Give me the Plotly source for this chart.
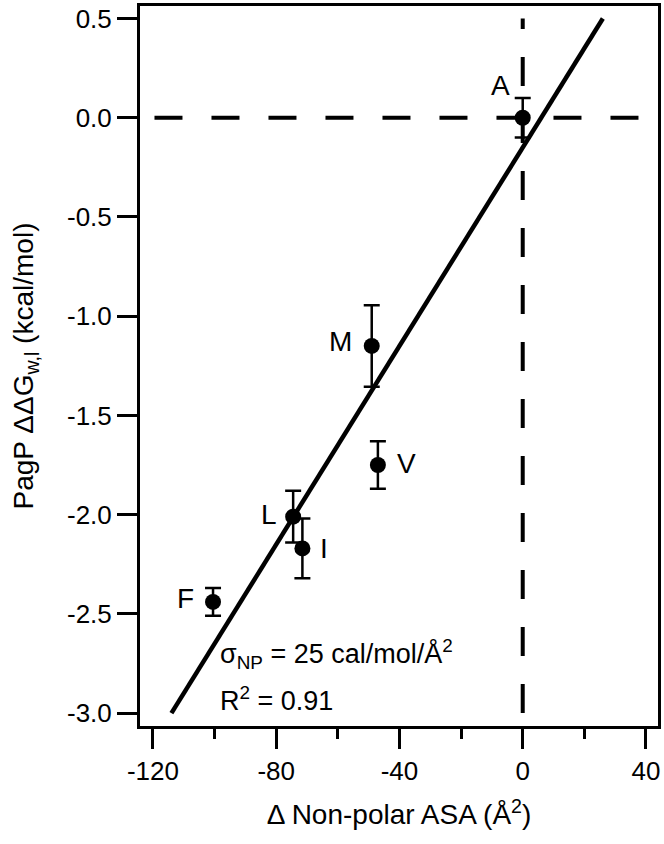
import plotly.graph_objects as go

labels = ["A", "M", "V", "L", "I", "F"]
asa = [0, -49, -47, -74.5, -71.5, -100.5]
ddg = [0.0, -1.15, -1.75, -2.01, -2.17, -2.44]
err = [0.10, 0.205, 0.12, 0.13, 0.15, 0.07]

fit_x = [-114, 26]
fit_y = [-3.0, 0.5]

# label placement (style only)
lab_anchor = ["right", "right", "left", "right", "left", "right"]
lab_dx = [-11, -18, 17, -14, 16, -17]
lab_dy = [32, 4, 2, 2, 0, 3]

FONT = "Liberation Sans, Arial, sans-serif"

fig = go.Figure()

# dashed reference lines
fig.add_trace(go.Scatter(x=[-119.5, 38], y=[0, 0], mode="lines",
                         line=dict(color="black", width=4, dash="28px,29px"),
                         hoverinfo="skip", showlegend=False))
fig.add_trace(go.Scatter(x=[0, 0], y=[-3.0, 0.5], mode="lines",
                         line=dict(color="black", width=4, dash="29px,28px"),
                         hoverinfo="skip", showlegend=False))

# fit line
fig.add_trace(go.Scatter(x=fit_x, y=fit_y, mode="lines",
                         line=dict(color="black", width=4.5),
                         showlegend=False))

# data points
fig.add_trace(go.Scatter(x=asa, y=ddg, mode="markers",
                         marker=dict(color="black", size=16),
                         error_y=dict(type="data", array=err, color="black",
                                      thickness=2.5, width=8),
                         showlegend=False))

for lab, xv, yv, anc, dx, dy in zip(labels, asa, ddg, lab_anchor, lab_dx, lab_dy):
    fig.add_annotation(x=xv, y=yv, text=lab, showarrow=False, xanchor=anc, yanchor="middle",
                       xshift=dx, yshift=dy, font=dict(family=FONT, size=28, color="black"))

fig.add_annotation(x=-99, y=-2.7, xref="x", yref="y", xanchor="left", yanchor="middle",
                   text="σ<sub>NP</sub> = 25 cal/mol/Å<sup>2</sup>", showarrow=False,
                   font=dict(family=FONT, size=27, color="black"))
fig.add_annotation(x=-99, y=-2.93, xref="x", yref="y", xanchor="left", yanchor="middle",
                   text="R<sup>2</sup> = 0.91", showarrow=False,
                   font=dict(family=FONT, size=27, color="black"))

fig.update_layout(
    width=664, height=844,
    margin=dict(l=140, r=6, t=3, b=118),
    paper_bgcolor="white", plot_bgcolor="white",
    font=dict(family=FONT, size=26, color="black"),
    xaxis=dict(range=[-124.2, 43.9], tickvals=[-120, -80, -40, 0, 40],
               ticktext=["-120", "-80", "-40", "0", "40"],
               ticks="outside", ticklen=20, tickwidth=3, tickcolor="black",
               minor=dict(ticks="outside", ticklen=10, tickwidth=3, dtick=20, tick0=0,
                          tickcolor="black"),
               showline=True, linecolor="black", linewidth=3, mirror=True,
               showgrid=False, zeroline=False,
               tickfont=dict(family=FONT, size=26),
               title=dict(text="Δ Non-polar ASA (Å<sup>2</sup>)",
                          font=dict(family=FONT, size=28), standoff=20)),
    yaxis=dict(range=[-3.065, 0.563], tickvals=[0.5, 0.0, -0.5, -1.0, -1.5, -2.0, -2.5, -3.0],
               ticktext=["0.5", "0.0", "-0.5", "-1.0", "-1.5", "-2.0", "-2.5", "-3.0"],
               ticks="outside", ticklen=20, tickwidth=3, tickcolor="black",
               showline=True, linecolor="black", linewidth=3, mirror=True,
               showgrid=False, zeroline=False,
               tickfont=dict(family=FONT, size=26),
               title=dict(text="PagP ΔΔG<sub>w,l</sub> (kcal/mol)",
                          font=dict(family=FONT, size=28), standoff=26)),
)

fig.write_html("out.html", config={"displayModeBar": False},
               post_script="document.body.style.margin='0';document.body.style.overflow='hidden';")
